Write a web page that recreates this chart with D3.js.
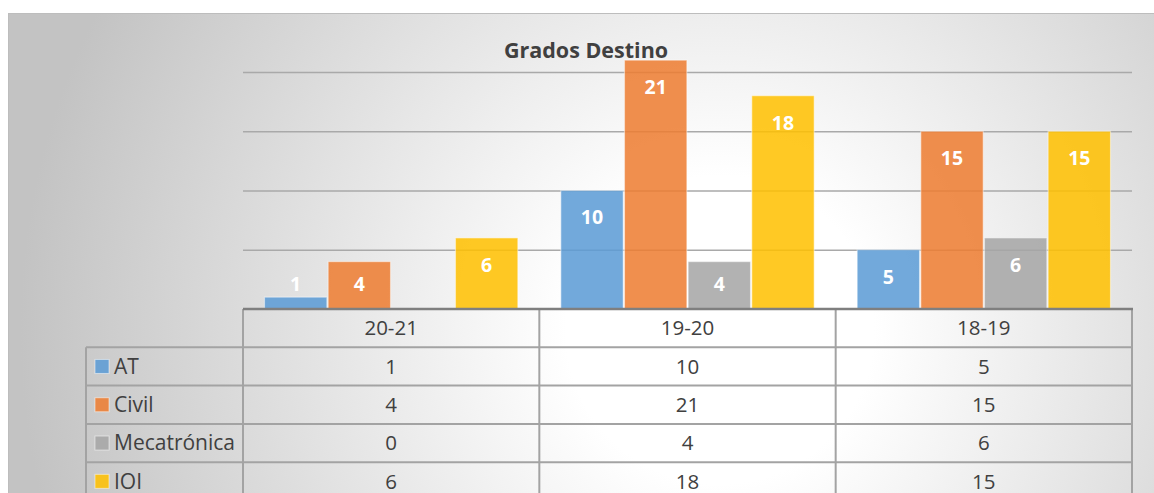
<!DOCTYPE html>
<html>
<head>
<meta charset="utf-8">
<script src="https://cdn.jsdelivr.net/npm/d3@7"></script>
<style>
  body { margin: 0; background: #fff; }
  text { font-family: "Open Sans", sans-serif; }
</style>
</head>
<body>
<div id="chart-area"></div>
<script>
// DATA
const categories = ['20-21', '19-20', '18-19'];
const seriesNames = ['AT', 'Civil', 'Mecatrónica', 'IOI'];
const seriesColors = ['#5b9bd5', '#ed7d31', '#a5a5a5', '#ffc000'];
const valuesAT = [1, 10, 5];
const valuesCivil = [4, 21, 15];
const valuesMeca = [0, 4, 6];
const valuesIOI = [6, 18, 15];
const gridTicks = [5, 10, 15, 20];
const chartTitle = 'Grados Destino';

const seriesValues = [valuesAT, valuesCivil, valuesMeca, valuesIOI];

const width = 1154, height = 493;
const plot = { left: 243, right: 1132, top: 72, bottom: 309 };
const rowH = 38.3;

const svg = d3.select('#chart-area')
	.append('svg')
		.attr('width', width)
		.attr('height', height);

// background gradient
const defs = svg.append('defs');
const grad = defs.append('radialGradient')
	.attr('id', 'bg')
	.attr('gradientUnits', 'userSpaceOnUse')
	.attr('cx', 720).attr('cy', 330).attr('r', 700);
grad.append('stop').attr('offset', '0').attr('stop-color', '#ffffff');
grad.append('stop').attr('offset', '0.22').attr('stop-color', '#ffffff');
grad.append('stop').attr('offset', '1').attr('stop-color', '#c3c3c3');

svg.append('rect')
	.attr('x', 8.5).attr('y', 13.5)
	.attr('width', width).attr('height', height)
	.attr('fill', 'url(#bg)')
	.attr('stroke', '#bdbdbd')
	.attr('stroke-width', 1);

// SCALES
const x0 = d3.scaleBand()
	.domain(categories)
	.range([plot.left, plot.right]);

const x1 = d3.scaleBand()
	.domain(seriesNames)
	.range([21.5, x0.bandwidth() - 21.5])
	.paddingInner(0.02);

const y = d3.scaleLinear()
	.domain([0, 20])
	.range([plot.bottom, plot.top]);

const color = d3.scaleOrdinal()
	.domain(seriesNames)
	.range(seriesColors);

// gridlines
const yGrid = d3.axisLeft(y)
	.tickValues(gridTicks)
	.tickSize(-(plot.right - plot.left))
	.tickFormat('');
svg.append('g')
	.attr('class', 'grid')
	.attr('transform', `translate(${plot.left},0)`)
	.call(yGrid)
	.call(g => g.select('.domain').remove())
	.call(g => g.selectAll('line')
		.attr('stroke', '#a9a9a9')
		.attr('stroke-width', 1.5));

// title
svg.append('text')
	.attr('x', 586)
	.attr('y', 58)
	.attr('text-anchor', 'middle')
	.attr('font-size', 21.5)
	.attr('font-weight', 'bold')
	.attr('fill', '#404040')
	.text(chartTitle);

// BARS
const flat = [];
seriesNames.forEach((s, si) => {
	categories.forEach((c, ci) => {
		flat.push({ series: s, category: c, value: seriesValues[si][ci] });
	});
});

const bars = svg.append('g').attr('class', 'bars');

bars.selectAll('rect')
	.data(flat.filter(d => d.value > 0))
	.enter()
	.append('rect')
		.attr('x', d => x0(d.category) + x1(d.series))
		.attr('y', d => y(d.value))
		.attr('width', x1.bandwidth())
		.attr('height', d => y(0) - y(d.value))
		.attr('fill', d => color(d.series))
		.attr('fill-opacity', 0.86)
		.attr('stroke', 'rgba(255,255,255,0.45)')
		.attr('stroke-width', 1.2);

bars.selectAll('text')
	.data(flat.filter(d => d.value > 0))
	.enter()
	.append('text')
		.attr('x', d => x0(d.category) + x1(d.series) + x1.bandwidth() / 2)
		.attr('y', d => Math.min(y(d.value) + 27, y(0) - 25))
		.attr('dy', '0.35em')
		.attr('text-anchor', 'middle')
		.attr('font-size', 19.5)
		.attr('font-weight', 'bold')
		.attr('fill', '#ffffff')
		.text(d => d.value);

// DATA TABLE
const table = svg.append('g').attr('class', 'data-table');
const legendLeft = 86;
const lineColor = '#a3a3a3';
const nRows = seriesNames.length;
const tableBottom = plot.bottom + rowH * (nRows + 1);

// horizontal lines
for (let r = 1; r <= nRows; r++) {
	table.append('line')
		.attr('x1', legendLeft).attr('x2', plot.right)
		.attr('y1', plot.bottom + rowH * r).attr('y2', plot.bottom + rowH * r)
		.attr('stroke', lineColor).attr('stroke-width', 2);
}
// vertical lines
table.append('line')
	.attr('x1', legendLeft).attr('x2', legendLeft)
	.attr('y1', plot.bottom + rowH).attr('y2', tableBottom)
	.attr('stroke', lineColor).attr('stroke-width', 2);
x0.domain().forEach(c => {
	table.append('line')
		.attr('x1', x0(c)).attr('x2', x0(c))
		.attr('y1', plot.bottom).attr('y2', tableBottom)
		.attr('stroke', lineColor).attr('stroke-width', 2);
});
table.append('line')
	.attr('x1', plot.right).attr('x2', plot.right)
	.attr('y1', plot.bottom).attr('y2', tableBottom)
	.attr('stroke', lineColor).attr('stroke-width', 2);

// axis line (top of table)
table.append('line')
	.attr('x1', plot.left).attr('x2', plot.right + 1)
	.attr('y1', plot.bottom).attr('y2', plot.bottom)
	.attr('stroke', '#7f7f7f').attr('stroke-width', 2.5);

// header labels
table.selectAll('.cat')
	.data(categories)
	.enter()
	.append('text')
		.attr('class', 'cat')
		.attr('x', d => x0(d) + x0.bandwidth() / 2)
		.attr('y', plot.bottom + rowH / 2)
		.attr('dy', '0.35em')
		.attr('text-anchor', 'middle')
		.attr('font-size', 20.5)
		.attr('fill', '#404040')
		.text(d => d);

// series rows
seriesNames.forEach((s, si) => {
	const rowY = plot.bottom + rowH * (si + 1);
	const row = table.append('g')
		.attr('transform', `translate(0,${rowY})`);

	row.append('rect')
		.attr('x', 95)
		.attr('y', rowH / 2 - 7)
		.attr('width', 14)
		.attr('height', 14)
		.attr('fill', color(s))
		.attr('fill-opacity', 0.86)
		.attr('stroke', 'rgba(255,255,255,0.5)');

	row.append('text')
		.attr('x', 114)
		.attr('y', rowH / 2)
		.attr('dy', '0.35em')
		.attr('font-size', 21)
		.attr('fill', '#404040')
		.text(s);

	row.selectAll('.val')
		.data(categories)
		.enter()
		.append('text')
			.attr('class', 'val')
			.attr('x', c => x0(c) + x0.bandwidth() / 2)
			.attr('y', rowH / 2)
			.attr('dy', '0.35em')
			.attr('text-anchor', 'middle')
			.attr('font-size', 20.5)
			.attr('fill', '#404040')
			.text((c, ci) => seriesValues[si][ci]);
});
</script>
</body>
</html>
